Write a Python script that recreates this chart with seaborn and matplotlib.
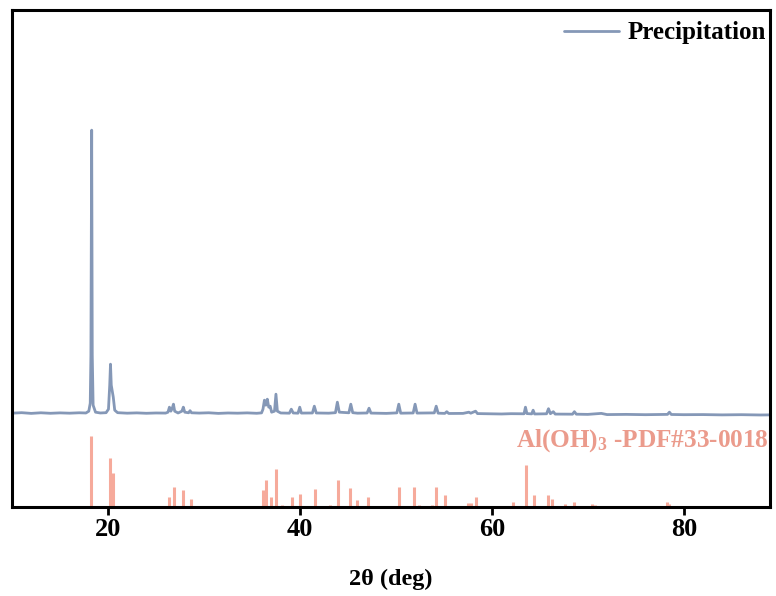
import numpy as np
import pandas as pd
import matplotlib
matplotlib.use("Agg")
import matplotlib.pyplot as plt
import seaborn as sns

# Precipitation pattern (2theta, intensity a.u.)
two_theta = [
    10.0, 11.0, 12.0, 13.0, 14.0, 15.0, 16.0, 17.0, 17.7, 18.0,
    18.15, 18.22, 18.30, 18.36, 18.45, 18.7, 19.2, 19.8, 20.05, 20.18,
    20.26, 20.34, 20.45, 20.55, 20.7, 21.0, 22.0, 23.0, 24.0, 25.0,
    26.0, 26.25, 26.4, 26.55, 26.7, 26.82, 26.95, 27.3, 27.7, 27.85,
    28.0, 28.4, 28.55, 28.7, 29.5, 30.5, 31.5, 32.5, 33.5, 34.5,
    35.5, 36.0, 36.15, 36.3, 36.45, 36.6, 36.75, 36.9, 37.05, 37.35,
    37.5, 37.65, 38.0, 38.9, 39.1, 39.3, 39.8, 39.98, 40.15, 41.3,
    41.5, 41.7, 43.0, 43.7, 43.9, 44.1, 45.1, 45.3, 45.5, 46.0,
    47.0, 47.2, 47.4, 49.0, 50.1, 50.3, 50.5, 51.8, 52.0, 52.2,
    54.0, 54.2, 54.4, 55.1, 55.3, 55.5, 57.0, 57.6, 57.8, 58.3,
    58.5, 60.0, 61.0, 62.0, 63.35, 63.5, 63.65, 64.15, 64.3, 64.45,
    65.7, 65.9, 66.1, 66.4, 66.6, 68.4, 68.6, 68.8, 70.0, 71.4,
    72.0, 74.0, 76.0, 78.3, 78.5, 78.7, 80.0, 82.0, 84.0, 86.0,
    88.0, 89.0,
]
intensity = [
    2.0, 2.5, 1.8, 2.4, 1.9, 2.3, 2.0, 2.4, 2.2, 4.0,
    12.0, 60.0, 285.0, 60.0, 10.0, 3.0, 2.2, 2.5, 6.0, 30.0,
    51.0, 30.0, 24.0, 18.0, 5.0, 2.5, 2.0, 2.3, 1.9, 2.2,
    2.1, 3.0, 8.0, 4.0, 7.0, 11.0, 4.0, 2.2, 4.0, 8.0,
    3.0, 2.4, 4.5, 2.4, 2.1, 2.4, 1.8, 2.2, 2.0, 2.3,
    1.9, 2.3, 6.0, 15.0, 10.0, 16.0, 8.0, 9.0, 3.0, 4.0,
    21.0, 4.0, 2.2, 2.0, 6.0, 2.2, 2.0, 8.0, 2.1, 2.2,
    9.0, 2.2, 2.0, 2.5, 13.0, 3.0, 2.4, 11.0, 2.5, 2.0,
    2.2, 7.0, 2.1, 1.8, 2.3, 11.0, 2.0, 2.2, 11.0, 2.1,
    2.3, 9.0, 2.0, 1.8, 3.5, 1.7, 1.8, 3.0, 2.0, 4.0,
    1.6, 1.4, 1.2, 1.5, 1.4, 8.0, 1.6, 1.3, 5.0, 1.2,
    1.4, 6.5, 1.5, 3.5, 1.1, 1.0, 3.5, 1.0, 0.8, 1.8,
    0.6, 0.8, 0.5, 0.8, 3.0, 0.7, 0.5, 0.6, 0.3, 0.5,
    0.2, 0.3,
]

# Al(OH)3 reference lines, PDF#33-0018 (2theta, relative intensity %)
ref_theta = [
    18.28, 20.26, 20.50, 26.39, 26.85, 27.85, 28.60, 36.18, 36.42, 36.94,
    37.53, 38.16, 39.17, 39.97, 40.87, 41.53, 43.12, 44.00, 44.60, 45.24,
    45.97, 47.08, 50.35, 51.91, 52.43, 53.71, 54.20, 55.10, 57.55, 57.80,
    58.33, 59.27, 62.20, 63.54, 64.40, 65.80, 66.28, 67.57, 68.57, 70.40,
    70.70, 72.10, 77.20, 78.20, 78.50, 81.30, 84.10,
]
ref_int = [
    100, 69, 48, 15, 29, 24, 12, 24, 38, 14,
    54, 3, 14, 19, 2, 26, 3, 38, 2, 27,
    10, 14, 29, 29, 3, 3, 29, 17, 6, 6,
    14, 2, 7, 59, 17, 17, 11, 5, 8, 5,
    3, 2, 2, 8, 5, 2, 2,
]

blue = "#8598b7"
salmon = "#f6aa9b"
salmon_txt = "#eb9b8c"

sns.set_style("ticks")
plt.rcParams["font.family"] = ["Liberation Serif", "DejaVu Serif"]
plt.rcParams["font.weight"] = "bold"
plt.rcParams["text.color"] = "black"
plt.rcParams["xtick.color"] = "black"
plt.rcParams["axes.labelcolor"] = "black"
plt.rcParams["mathtext.fontset"] = "custom"
plt.rcParams["mathtext.rm"] = "Liberation Serif:bold"
plt.rcParams["mathtext.bf"] = "Liberation Serif:bold"
plt.rcParams["mathtext.it"] = "Liberation Serif:bold"

fig = plt.figure(figsize=(7.76, 5.96), dpi=100)
ax = fig.add_axes([0.0155, 0.149, 0.977, 0.834])

df = pd.DataFrame({"theta": two_theta, "I": np.array(intensity) + 92})
sns.lineplot(data=df, x="theta", y="I", ax=ax, color=blue, lw=2.0,
             sort=False, estimator=None, label="Precipitation")

ax.vlines(ref_theta, 0, np.array(ref_int) * 0.71, color=salmon, lw=2.2)

ax.text(0.998, 67, r"Al(OH)$_3$ -PDF#33-0018", transform=ax.get_yaxis_transform(),
        ha="right", va="center", color=salmon_txt, fontsize=18.2, fontweight="bold")

ax.set_xlim(10, 89)
ax.set_ylim(0, 497)
ax.set_xticks([20, 40, 60, 80])
ax.set_yticks([])
ax.set_ylabel("")
ax.set_xlabel("2θ (deg)", fontsize=17.5, fontweight="bold", labelpad=20)
ax.tick_params(axis="x", direction="out", length=6, width=2, labelsize=19,
               pad=2, labelcolor="black")
for s in ax.spines.values():
    s.set_linewidth(2.2)
    s.set_color("black")

leg = ax.legend(loc="upper right", bbox_to_anchor=(1.003, 0.99), frameon=False,
                fontsize=18, handlelength=2.2, handletextpad=0.35,
                borderaxespad=0.1, borderpad=0.15)
for t in leg.get_texts():
    t.set_fontweight("bold")
    t.set_color("black")

fig.savefig("out.png", dpi=100)
